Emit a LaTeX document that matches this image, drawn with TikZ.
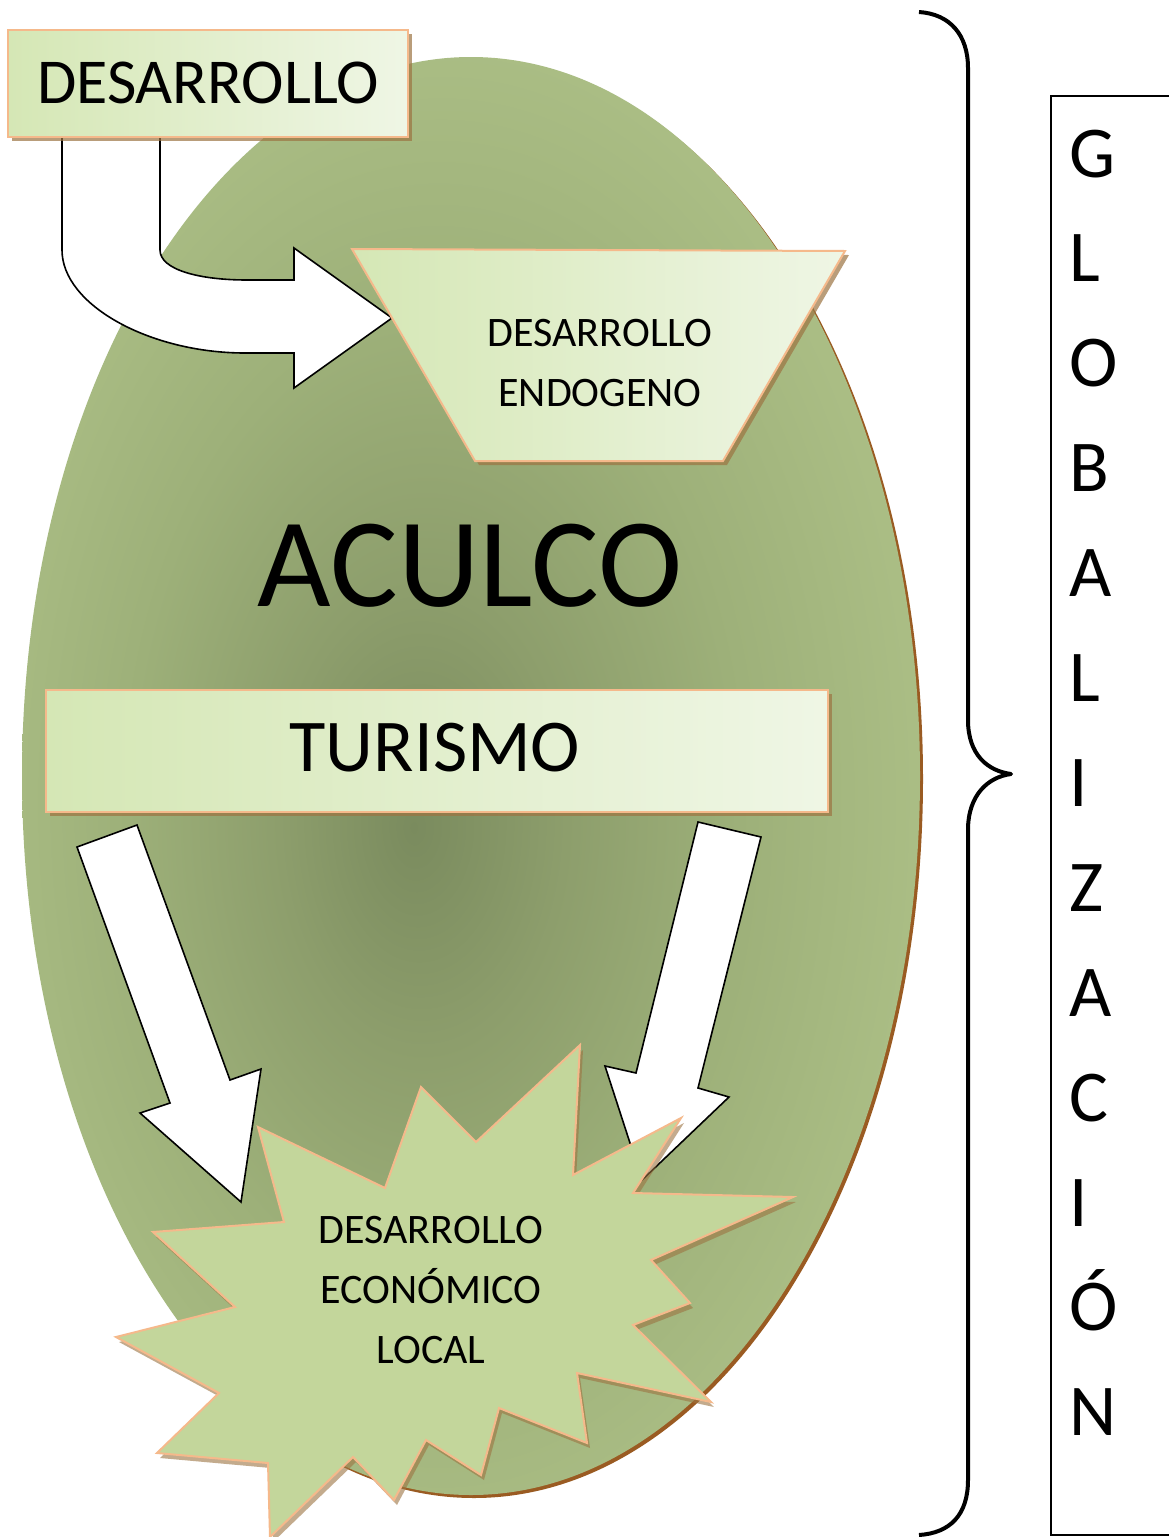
\documentclass[tikz,border=0pt]{standalone}
\usepackage{fontspec}
\setmainfont{Carlito}
\definecolor{ellshadow}{HTML}{9A5B22}
\definecolor{boxA}{HTML}{D5E7B5}
\definecolor{boxB}{HTML}{EFF6E5}
\definecolor{boxline}{HTML}{F5B98B}
\definecolor{shadowc}{HTML}{9C7442}
\definecolor{starfill}{HTML}{C3D69B}
\definecolor{ellA}{HTML}{7A8B5E}
\definecolor{ellB}{HTML}{8D9E6C}
\definecolor{ellC}{HTML}{9DB079}
\definecolor{ellD}{HTML}{ABBE85}
\definecolor{ellE}{HTML}{B9CC8F}
\pgfdeclareradialshading{ellsh}{\pgfpoint{-3.2bp}{-1.8bp}}{color(0bp)=(ellA); color(8bp)=(ellB); color(17bp)=(ellC); color(27bp)=(ellD); color(33bp)=(ellE); color(50bp)=(ellE)}
\begin{document}
\begin{tikzpicture}[x=1pt,y=-1pt,
  lightbox/.style={draw=boxline, line width=2pt, left color=boxA, right color=boxB},
  shadowshape/.style={fill=shadowc, opacity=0.7},
  whitearrow/.style={draw=black, line width=1.6pt, fill=white, line join=miter},
  starshape/.style={draw=boxline, line width=2pt, fill=starfill, line join=miter},
  lbl/.style={inner sep=0pt, text=black, align=center}]
\useasboundingbox (0,0) rectangle (1169,1537);
\fill[white] (0,0) rectangle (1169,1537);
% ellipse
\fill[ellshadow] (474,779) ellipse [x radius=449pt, y radius=719pt];
\path[shading=ellsh] (471,776) ellipse [x radius=449pt, y radius=719pt];
% curved arrow
\draw[whitearrow] (62,136) -- (62,250) .. controls (62,305) and (150,353) .. (245,353) -- (294,353) -- (294,388) -- (392,318) -- (294,248) -- (294,280) -- (247,280) .. controls (200,280) and (160,270) .. (160,250) -- (160,136) -- cycle;
% top box
\fill[shadowshape] (12,34) rectangle (412,141);
\draw[lightbox] (8,30) rectangle (408,137);
\node[lbl, font=\fontsize{64}{70}\selectfont] (t1) at (208,83) {DESARROLLO};
% trapezoid
\fill[shadowshape] (356,253) -- (849,255) -- (727,465) -- (479,465) -- cycle;
\draw[lightbox, line join=miter] (352,249) -- (845,251) -- (723,461) -- (475,461) -- cycle;
\node[lbl, font=\fontsize{42}{60}\selectfont] (t2) at (600,363) {DESARROLLO\\ENDOGENO};
% ACULCO
\node[lbl, font=\fontsize{127}{130}\selectfont] (t3) at (470,566) {ACULCO};
% TURISMO box
\fill[shadowshape] (50,694) rectangle (832,816);
\draw[lightbox] (46,690) rectangle (828,812);
\node[lbl, font=\fontsize{74.5}{80}\selectfont] (t4) at (435,748) {TURISMO};
% left arrow
\draw[whitearrow] (77,847) -- (137,825) -- (230,1080) -- (261,1069) -- (241,1202) -- (140,1113) -- (170,1103) -- cycle;
% right arrow
\draw[whitearrow] (698,822) -- (761,837) -- (698,1088) -- (729,1097) -- (642,1180) -- (605,1066) -- (636,1073) -- cycle;
% star
\fill[shadowshape, opacity=0.6] [shift={(3,5)}] (580,1045) -- (573,1175) -- (681,1118) -- (633,1193) -- (793,1197) -- (651,1260) -- (690,1303) -- (633,1325) -- (711,1402) -- (577,1373) -- (587,1443) -- (499,1408) -- (481,1475) -- (426,1440) -- (394,1500) -- (353,1457) -- (270,1537) -- (268,1463) -- (157,1453) -- (219,1393) -- (116,1337) -- (235,1307) -- (153,1232) -- (284,1222) -- (258,1127) -- (385,1188) -- (421,1087) -- (476,1142) -- cycle;
\draw[starshape] (580,1045) -- (573,1175) -- (681,1118) -- (633,1193) -- (793,1197) -- (651,1260) -- (690,1303) -- (633,1325) -- (711,1402) -- (577,1373) -- (587,1443) -- (499,1408) -- (481,1475) -- (426,1440) -- (394,1500) -- (353,1457) -- (270,1537) -- (268,1463) -- (157,1453) -- (219,1393) -- (116,1337) -- (235,1307) -- (153,1232) -- (284,1222) -- (258,1127) -- (385,1188) -- (421,1087) -- (476,1142) -- cycle;
\node[lbl, font=\fontsize{42}{60}\selectfont] (t5) at (431,1290) {DESARROLLO\\ECONÓMICO\\LOCAL};
% brace
\draw[line width=4pt, line join=round] (919,12) .. controls (950,14) and (968,35) .. (968,68) -- (968,720) .. controls (968,755) and (988,771) .. (1011,774) .. controls (988,777) and (968,795) .. (968,830) -- (968,1480) .. controls (968,1515) and (950,1533) .. (919,1535);
% vertical box
\draw[line width=2pt] (1180,96) -- (1051,96) -- (1051,1535) -- (1180,1535);
\foreach \ch [count=\i from 0] in {G,L,O,B,A,L,I,Z,A,C,I,Ó,N}
  \node[lbl, anchor=base west, font=\fontsize{73}{80}\selectfont] (g\i) at (1069,{177+104.9*\i}) {\ch};
\end{tikzpicture}
\end{document}
